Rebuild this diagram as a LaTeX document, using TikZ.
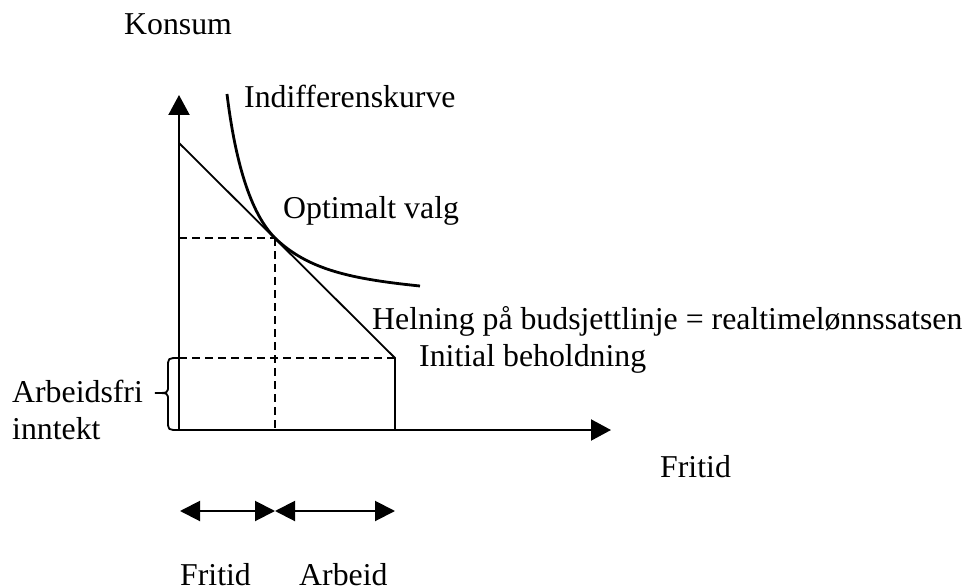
\documentclass[tikz,border=0pt]{standalone}
\usepackage{fontspec}
\setmainfont{Liberation Serif}
\usetikzlibrary{arrows.meta}
\begin{document}
\begin{tikzpicture}[x=1pt,y=-1pt,
  lbl/.style={inner sep=0pt,anchor=base west,font=\fontsize{31.8}{37}\selectfont},
  axis/.style={line width=2.1pt,-{Triangle[length=20pt,width=21pt]}},
  budget/.style={line width=1.8pt},
  guide/.style={line width=1.6pt,dash pattern=on 8pt off 5pt},
  icurve/.style={line width=2.8pt},
  span/.style={line width=2pt,{Triangle[length=20pt,width=20pt]}-{Triangle[length=20pt,width=20pt]}}]
\useasboundingbox[fill=white] (0,0) rectangle (968,588);
% key points
\coordinate (O) at (179,430);
\coordinate (ytip) at (179,95);
\coordinate (xtip) at (611,430);
\coordinate (B0) at (179,143);
\coordinate (T) at (275,238);
\coordinate (E) at (395,358);
\coordinate (Ex) at (395,430);
\coordinate (Ty) at (179,238);
\coordinate (Tx) at (275,430);
\coordinate (Ey) at (179,358);
\coordinate (Ia) at (227,94);
\coordinate (Ib) at (420,286);
\coordinate (A1) at (180,511);
\coordinate (A2) at (275,511);
\coordinate (A3) at (395,511);
% axes
\draw[axis] (O) -- (ytip);
\draw[axis] (O) -- (xtip);
% dashed guides
\draw[guide] (Ty) -- (T);
\draw[guide] (T) -- (Tx);
\draw[guide] (Ey) -- (E);
% budget line
\draw[budget] (B0) -- (E) -- (Ex);
% indifference curve
\draw[icurve] (Ia) .. controls (235,160) and (250,213) .. (T)
  .. controls (308,270) and (352,279) .. (Ib);
% brace
\draw[line width=1.8pt] (Ey) .. controls (168,358) .. (168,367) -- (168,386)
  .. controls (168,393) .. (155,393) .. controls (168,393) .. (168,400)
  -- (168,421) .. controls (168,430) .. (O);
% span arrows
\draw[span] (A1) -- (A2);
\draw[span] (A2) -- (A3);
% labels
\node[lbl] (konsum) at (124,35) {Konsum};
\node[lbl] (indiff) at (244,108) {Indifferenskurve};
\node[lbl] (optimal) at (283,218) {Optimalt valg};
\node[lbl] (helning) at (372,329) {Helning på budsjettlinje = realtimelønnssatsen};
\node[lbl] (initial) at (419,366) {Initial beholdning};
\node[lbl] (arbfri1) at (12,402) {Arbeidsfri};
\node[lbl] (arbfri2) at (12,439) {inntekt};
\node[lbl] (fritidx) at (660,477) {Fritid};
\node[lbl] (fritid) at (180,585) {Fritid};
\node[lbl] (arbeid) at (299,585) {Arbeid};
\end{tikzpicture}
\end{document}
